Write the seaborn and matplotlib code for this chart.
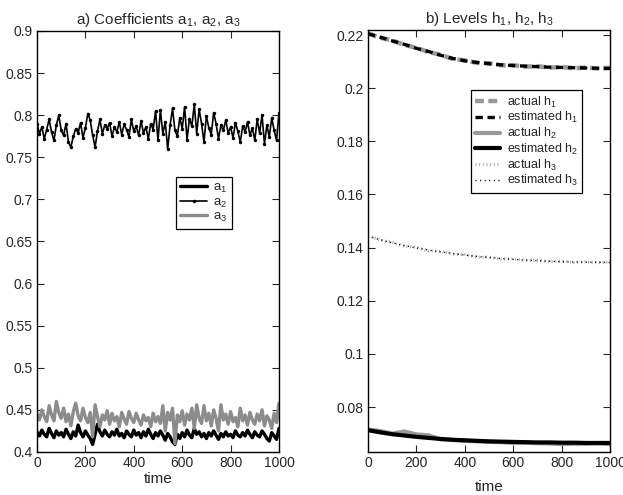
import numpy as np
import pandas as pd
import matplotlib
matplotlib.use("Agg")
import matplotlib.pyplot as plt
import seaborn as sns

# ---------------- data ----------------
t_noisy = list(range(0, 1001, 10))
a1 = [0.424,0.419,0.426,0.421,0.418,0.428,0.422,0.417,0.425,0.420,
      0.423,0.418,0.427,0.421,0.416,0.424,0.419,0.432,0.423,0.418,
      0.425,0.420,0.416,0.409,0.421,0.433,0.424,0.419,0.426,0.421,
      0.418,0.424,0.420,0.427,0.419,0.422,0.417,0.425,0.421,0.418,
      0.426,0.420,0.423,0.417,0.424,0.419,0.427,0.421,0.416,0.423,
      0.419,0.425,0.420,0.414,0.422,0.418,0.412,0.409,0.421,0.416,
      0.423,0.418,0.426,0.420,0.417,0.428,0.421,0.424,0.418,0.422,
      0.416,0.423,0.419,0.425,0.420,0.415,0.422,0.418,0.424,0.419,
      0.421,0.417,0.425,0.420,0.418,0.423,0.419,0.426,0.421,0.417,
      0.424,0.420,0.418,0.425,0.421,0.416,0.413,0.423,0.419,0.415,0.428]
a2 = [0.790,0.778,0.786,0.772,0.783,0.795,0.780,0.770,0.788,0.800,
      0.782,0.776,0.790,0.768,0.762,0.775,0.784,0.779,0.791,0.773,
      0.785,0.802,0.794,0.776,0.762,0.781,0.795,0.778,0.788,0.784,
      0.791,0.775,0.786,0.780,0.792,0.777,0.789,0.783,0.774,0.795,
      0.781,0.787,0.776,0.793,0.779,0.786,0.772,0.790,0.783,0.805,
      0.770,0.806,0.778,0.792,0.760,0.788,0.808,0.782,0.775,0.797,
      0.784,0.810,0.771,0.796,0.787,0.813,0.778,0.807,0.790,0.768,
      0.799,0.785,0.777,0.803,0.790,0.772,0.788,0.782,0.794,0.779,
      0.786,0.773,0.791,0.781,0.768,0.787,0.780,0.792,0.776,0.785,
      0.770,0.795,0.779,0.800,0.766,0.788,0.774,0.797,0.782,0.770,0.803]
a3 = [0.445,0.438,0.450,0.442,0.436,0.455,0.444,0.437,0.460,0.447,
      0.440,0.452,0.436,0.445,0.431,0.448,0.458,0.443,0.437,0.452,
      0.441,0.435,0.447,0.418,0.456,0.442,0.430,0.444,0.438,0.449,
      0.433,0.446,0.437,0.442,0.430,0.447,0.439,0.433,0.448,0.440,
      0.435,0.446,0.438,0.432,0.444,0.437,0.441,0.430,0.446,0.436,
      0.442,0.434,0.455,0.425,0.447,0.438,0.452,0.410,0.444,0.436,
      0.449,0.432,0.445,0.438,0.452,0.428,0.456,0.440,0.434,0.455,
      0.437,0.446,0.431,0.450,0.440,0.425,0.456,0.438,0.445,0.433,
      0.448,0.436,0.441,0.430,0.452,0.437,0.444,0.432,0.447,0.438,
      0.433,0.445,0.437,0.450,0.431,0.443,0.438,0.428,0.446,0.435,0.458]

t_smooth = list(range(0, 1001, 50))
h1_act = [0.2206,0.2190,0.2180,0.2163,0.2152,0.2136,0.2126,0.2110,0.2105,0.2095,
          0.2094,0.2086,0.2087,0.2081,0.2083,0.2077,0.2080,0.2075,0.2078,0.2074,0.2077]
h1_est = [0.2205,0.2192,0.2178,0.2165,0.2150,0.2138,0.2124,0.2112,0.2103,0.2097,
          0.2092,0.2088,0.2085,0.2083,0.2081,0.2079,0.2078,0.2077,0.2076,0.2075,0.2074]
h2_act = [0.0716,0.0710,0.0700,0.0708,0.0697,0.0694,0.0679,0.0676,0.0673,0.0671,
          0.0669,0.0668,0.0665,0.0666,0.0664,0.0663,0.0661,0.0662,0.0662,0.0663,0.0661]
h2_est = [0.0713,0.0705,0.0698,0.0693,0.0688,0.0684,0.0680,0.0677,0.0675,0.0673,
          0.0671,0.0670,0.0669,0.0668,0.0667,0.0667,0.0666,0.0666,0.0665,0.0665,0.0665]
h3_act = [0.1446,0.1428,0.1420,0.1405,0.1401,0.1388,0.1386,0.1375,0.1374,0.1364,
          0.1365,0.1357,0.1358,0.1351,0.1353,0.1347,0.1350,0.1344,0.1347,0.1343,0.1346]
h3_est = [0.1443,0.1430,0.1418,0.1408,0.1399,0.1391,0.1384,0.1378,0.1372,0.1367,
          0.1363,0.1359,0.1356,0.1353,0.1351,0.1349,0.1347,0.1346,0.1345,0.1345,0.1344]

left_yticks = [0.4, 0.45, 0.5, 0.55, 0.6, 0.65, 0.7, 0.75, 0.8, 0.85, 0.9]
left_yticklabels = ["0.4", "0.45", "0.5", "0.55", "0.6", "0.65", "0.7", "0.75", "0.8", "0.85", "0.9"]
right_yticks = [0.08, 0.1, 0.12, 0.14, 0.16, 0.18, 0.2, 0.22]
right_yticklabels = ["0.08", "0.1", "0.12", "0.14", "0.16", "0.18", "0.2", "0.22"]
xticks = [0, 200, 400, 600, 800, 1000]

# ---------------- style ----------------
sns.set_style("ticks")
plt.rcParams['font.family'] = ['Liberation Sans', 'DejaVu Sans']
plt.rcParams['mathtext.fontset'] = 'custom'
plt.rcParams['mathtext.rm'] = 'Liberation Sans'
plt.rcParams['mathtext.it'] = 'Liberation Sans'
plt.rcParams['mathtext.default'] = 'regular'
plt.rcParams['axes.linewidth'] = 1.0
plt.rcParams['xtick.direction'] = 'in'
plt.rcParams['ytick.direction'] = 'in'

fig = plt.figure(figsize=(6.23, 4.95), dpi=100)
axL = fig.add_axes([0.0594, 0.0869, 0.3884, 0.8505])
axR = fig.add_axes([0.5907, 0.0869, 0.3884, 0.8525])

dfa = pd.DataFrame({"time": t_noisy, "a1": a1, "a2": a2, "a3": a3})
sns.lineplot(data=dfa, x="time", y="a1", ax=axL, color="black", lw=2.4, label=r"a$_1$")
sns.lineplot(data=dfa, x="time", y="a2", ax=axL, color="black", lw=1.2, marker=".",
             markersize=5, markeredgewidth=0, label=r"a$_2$")
sns.lineplot(data=dfa, x="time", y="a3", ax=axL, color="#8c8c8c", lw=2.4, label=r"a$_3$")

dfh = pd.DataFrame({"time": t_smooth, "h1a": h1_act, "h1e": h1_est,
                    "h2a": h2_act, "h2e": h2_est, "h3a": h3_act, "h3e": h3_est})
sns.lineplot(data=dfh, x="time", y="h1a", ax=axR, color="#999999", lw=3.2, label=r"actual h$_1$")
axR.lines[-1].set_dashes((2.0, 1.0))
sns.lineplot(data=dfh, x="time", y="h1e", ax=axR, color="black", lw=2.4, label=r"estimated h$_1$")
axR.lines[-1].set_dashes((2.2, 1.4))
sns.lineplot(data=dfh, x="time", y="h2a", ax=axR, color="#999999", lw=3.0, label=r"actual h$_2$")
sns.lineplot(data=dfh, x="time", y="h2e", ax=axR, color="black", lw=3.0, label=r"estimated h$_2$")
sns.lineplot(data=dfh, x="time", y="h3a", ax=axR, color="#a0a0a0", lw=2.2, label=r"actual h$_3$")
axR.lines[-1].set_dashes((0.3, 0.9))
sns.lineplot(data=dfh, x="time", y="h3e", ax=axR, color="black", lw=1.0, label=r"estimated h$_3$")
axR.lines[-1].set_dashes((0.8, 2.5))

for ax in (axL, axR):
    ax.set_xlim(0, 1000)
    ax.set_xticks(xticks)
    ax.set_xticklabels([str(v) for v in xticks])
    ax.tick_params(axis="both", labelsize=10, length=5, width=0.8,
                   top=True, right=True, pad=3)
    ax.set_ylabel("")
    for s in ax.spines.values():
        s.set_visible(True)
        s.set_color("black")

axL.set_ylim(0.4, 0.9)
axL.set_yticks(left_yticks)
axL.set_yticklabels(left_yticklabels)
axL.set_xlabel("time", fontsize=11, labelpad=1)
axL.set_title(r"a) Coefficients a$_1$, a$_2$, a$_3$", fontsize=11, pad=5)

axR.set_ylim(0.0631, 0.2219)
axR.set_yticks(right_yticks)
axR.set_yticklabels(right_yticklabels)
axR.set_xlabel("time", fontsize=11, labelpad=7)
axR.set_title(r"b) Levels h$_1$, h$_2$, h$_3$", fontsize=11, pad=5)

legL = axL.legend(loc="upper left", bbox_to_anchor=(0.546, 0.669), fontsize=9.5,
                  frameon=True, fancybox=False, edgecolor="black", framealpha=1,
                  handlelength=2.0, handletextpad=0.5, borderpad=0.35, labelspacing=0.1)
legL.get_frame().set_linewidth(0.9)
legR = axR.legend(loc="upper left", bbox_to_anchor=(0.40, 0.872), fontsize=9,
                  frameon=True, fancybox=False, edgecolor="black", framealpha=1,
                  handlelength=2.0, handletextpad=0.5, borderpad=0.35, labelspacing=0.05)
legR.get_frame().set_linewidth(0.9)

fig.savefig("out.png", dpi=100)
